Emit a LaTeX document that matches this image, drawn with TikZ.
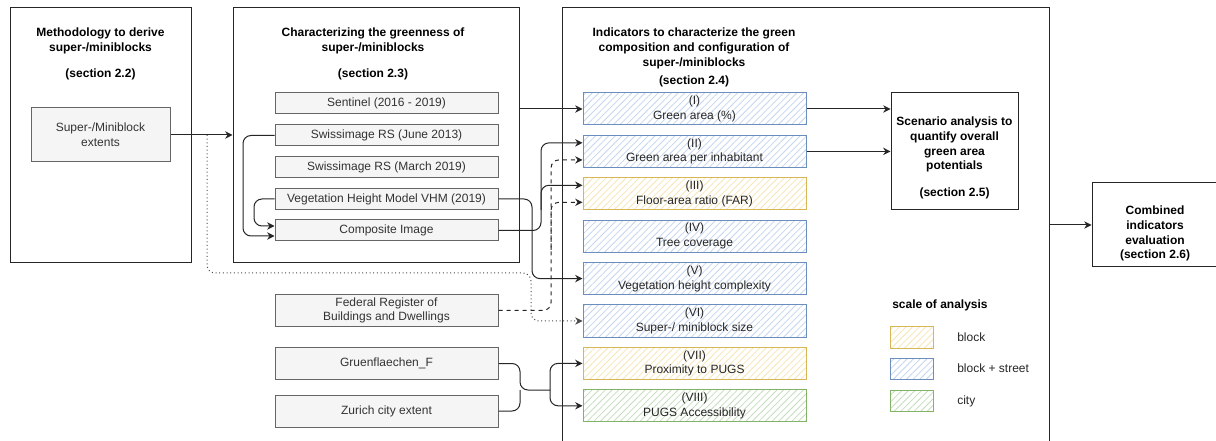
\documentclass[tikz,border=0pt]{standalone}
\usepackage{fontspec}
\setmainfont{Liberation Sans}
\usetikzlibrary{arrows.meta,patterns.meta}

\definecolor{dgray}{HTML}{666666}
\definecolor{lgray}{HTML}{F5F5F5}
\definecolor{tgray}{HTML}{333333}
\definecolor{blueline}{HTML}{6C8EBF}
\definecolor{bluefill}{HTML}{DAE8FC}
\definecolor{yellowline}{HTML}{D6B656}
\definecolor{yellowfill}{HTML}{FFF2CC}
\definecolor{greenline}{HTML}{82B366}
\definecolor{greenfill}{HTML}{D5E8D4}

\begin{document}
\begin{tikzpicture}[x=0.75pt, y=-0.75pt,
  every node/.style={font=\fontsize{9}{11}\selectfont},
  frame/.style={draw=black!85, line width=0.75pt},
  title/.style={font=\fontsize{9}{11}\selectfont\bfseries, align=center, inner sep=0pt, anchor=north},
  data/.style={draw=dgray, fill=lgray, text=tgray, line width=0.75pt, align=center,
    minimum width=167.25pt, minimum height=15.75pt, inner sep=0pt},
  ind/.style={draw=#1line, pattern={Lines[angle=45,distance=3.5pt,line width=0.6pt]},
    pattern color=#1fill!80!#1line, line width=0.75pt, align=center, text=black!85,
    minimum width=167.25pt, minimum height=24pt, inner sep=0pt},
  swatch/.style={ind=#1, minimum width=32.25pt, minimum height=15.75pt},
  arr/.style={-{Stealth[length=5.5pt,width=5.5pt]}, line width=0.75pt, black!85, rounded corners=6pt},
  joinline/.style={line width=0.75pt, black!85, rounded corners=6pt},
]

\fill[white] (0,0) rectangle (1216,441);
\useasboundingbox (0,0) rectangle (1216,441);

% Methodology
\node[frame, minimum width=135.75pt, minimum height=191.25pt, inner sep=0pt] (box1) at (100.5,135.5) {};
\node[title] (t1) at (100.5,28) {Methodology to derive\\super-/miniblocks\\[8.5pt](section 2.2)};
\node[data, minimum width=104.25pt, minimum height=40.5pt] (ext) at (100.5,135) {Super-/Miniblock\\extents};

% Greenness
\node[frame, minimum width=214.5pt, minimum height=191.25pt, inner sep=0pt] (box2) at (376,135.5) {};
\node[title] (t2) at (373,28) {Characterizing the greenness of\\super-/miniblocks\\[8.5pt](section 2.3)};
\node[data] (sent) at (386.5,103.5) {Sentinel (2016 - 2019)};
\node[data] (sjun) at (386.5,135.5) {Swissimage RS (June 2013)};
\node[data] (smar) at (386.5,167.5) {Swissimage RS (March 2019)};
\node[data] (vhm) at (386.5,199) {Vegetation Height Model VHM (2019)};
\node[data] (comp) at (386.5,230.5) {Composite Image};

% Other sources
\node[data, minimum height=24pt] (fed) at (386.5,310.5) {Federal Register of\\Buildings and Dwellings};
\node[data, minimum height=24pt] (gruen) at (386.5,363.5) {Gruenflaechen\_F};
\node[data, minimum height=24pt] (zur) at (386.5,411) {Zurich city extent};

% Indicators
\draw[frame] (562,441) -- (562,8) -- (1049,8) -- (1049,441);
\coordinate (b3r) at (1049,225);
\node[title] (t3) at (694,28) {Indicators to characterize the green\\composition and configuration of\\super-/miniblocks\\[2.5pt](section 2.4)};
\node[ind=blue] (ind1) at (694.5,109) {(I)\\Green area (\%)};
\node[ind=blue] (ind2) at (694.5,151.4) {(II)\\Green area per inhabitant};
\node[ind=yellow] (ind3) at (694.5,193.8) {(III)\\Floor-area ratio (FAR)};
\node[ind=blue] (ind4) at (694.5,236.2) {(IV)\\Tree coverage};
\node[ind=blue] (ind5) at (694.5,278.6) {(V)\\Vegetation height complexity};
\node[ind=blue] (ind6) at (694.5,321) {(VI)\\Super-/ miniblock size};
\node[ind=yellow] (ind7) at (694.5,363.4) {(VII)\\Proximity to PUGS};
\node[ind=green] (ind8) at (694.5,405.8) {(VIII)\\PUGS Accessibility};

% Scenario and evaluation
\node[frame, minimum width=95.25pt, minimum height=87.75pt, inner sep=0pt] (scen) at (954.5,151.5) {};
\node[title] (t4) at (954.5,117) {Scenario analysis to\\quantify overall\\green area\\potentials\\[9.25pt](section 2.5)};
\node[frame, minimum width=94.5pt, minimum height=63pt, inner sep=0pt] (comb) at (1155,225) {};
\node[title] (t5) at (1155,206) {Combined\\indicators\\evaluation\\(section 2.6)};

% Legend
\node[font=\fontsize{9}{11}\selectfont\bfseries, anchor=west, inner sep=0pt] (leg) at (892,305) {scale of analysis};
\node[swatch=yellow] (sw1) at (911.5,337.5) {};
\node[swatch=blue] (sw2) at (911.5,368.5) {};
\node[swatch=green] (sw3) at (911.5,401) {};
\node[anchor=west, inner sep=0pt, text=black!85] (l1) at (957,337.5) {block};
\node[anchor=west, inner sep=0pt, text=black!85] (l2) at (957,368.5) {block + street};
\node[anchor=west, inner sep=0pt, text=black!85] (l3) at (957,401) {city};

% Connections
\coordinate (dotA) at (207,273);
\coordinate (dotB) at (531,273);
\coordinate (sjL) at (243,236);
\coordinate (vhL) at (254,226);
\coordinate (vhR) at (532,240);
\coordinate (cmR) at (541,210);
\coordinate (fdR) at (551,250);
\coordinate (jL) at (520,390);
\coordinate (jR) at (550,390);

\draw[arr, dotted, black!70] (ext.east -| dotA) -- (dotA) -- (dotB) |- (ind6.west);
\draw[arr] (ext.east) -- (ext.east -| box2.west);
\draw[arr] (sjun.west) -| (sjL) -- (sjL -| comp.west);
\draw[arr] (vhm.west) -| (vhL) -- (vhL -| comp.west);
\draw[arr] (vhm.east) -| (vhR) |- (ind5.west);
\draw[arr] (ind1.west -| box2.east) -- (ind1.west);
\draw[arr] (comp.east) -| (cmR) |- ([yshift=6.4pt]ind2.west);
\draw[arr] (cmR) |- ([yshift=6.4pt]ind3.west);
\draw[arr, dashed] (fed.east) -| (fdR) |- ([yshift=-6.4pt]ind2.west);
\draw[arr, dashed] (fdR) |- ([yshift=-6.4pt]ind3.west);
\draw[joinline] (gruen.east) -| (jL) -- (jR);
\draw[joinline] (zur.east) -| (jL);
\draw[arr] (jR) |- (ind7.west);
\draw[arr] (jR) |- (ind8.west);
\draw[arr] (ind1.east) -- (ind1.east -| scen.west);
\draw[arr] (ind2.east) -- (ind2.east -| scen.west);
\draw[arr] (b3r) -- (comb.west);

\end{tikzpicture}
\end{document}
